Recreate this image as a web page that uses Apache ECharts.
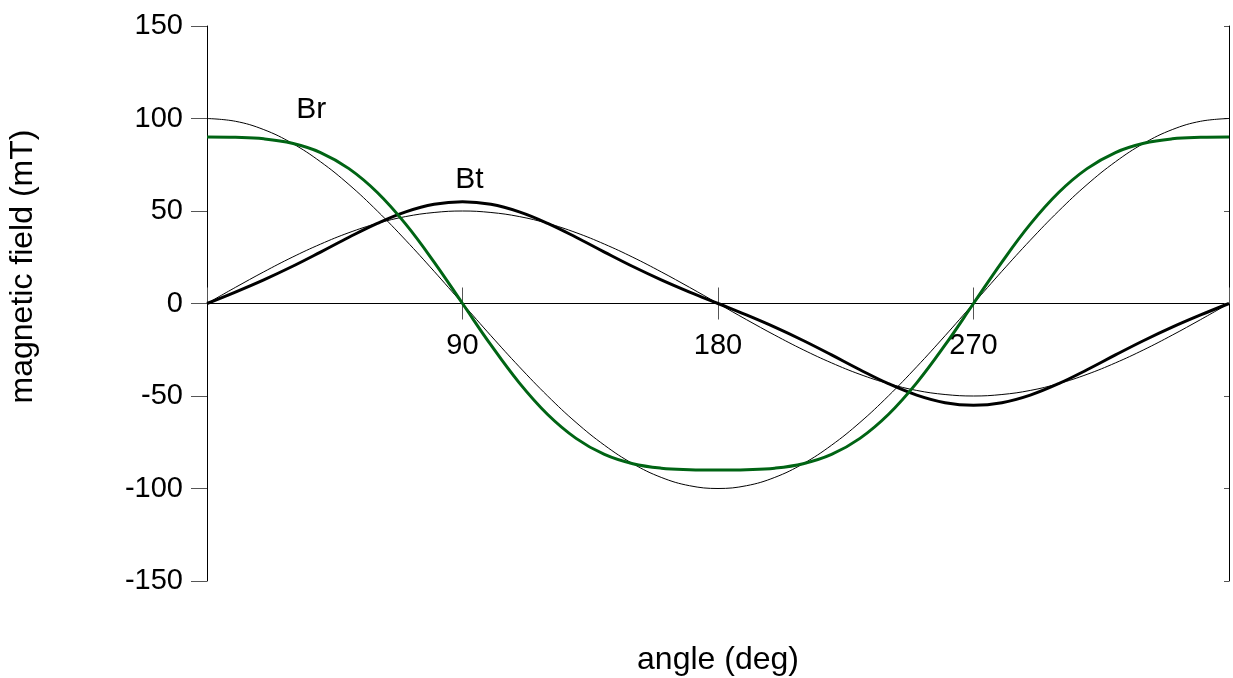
<!DOCTYPE html>
<html>
<head>
<meta charset="utf-8">
<script src="https://cdn.jsdelivr.net/npm/echarts@6/dist/echarts.min.js"></script>
<style>
    html, body { margin: 0; padding: 0; background: #fff; }
    #chart { width: 1233px; height: 678px; }
</style>
</head>
<body>
<div id="chart"></div>
<script>
// angle in degrees
var angles = [0, 10, 20, 30, 40, 50, 60, 70, 80, 90, 100, 110, 120, 130, 140, 150, 160, 170, 180,
    190, 200, 210, 220, 230, 240, 250, 260, 270, 280, 290, 300, 310, 320, 330, 340, 350, 360];

// thin lines
var brThin = [100, 98.5, 94, 86.6, 76.6, 64.3, 50, 34.2, 17.4, 0, -17.4, -34.2, -50, -64.3, -76.6, -86.6, -94, -98.5, -100,
    -98.5, -94, -86.6, -76.6, -64.3, -50, -34.2, -17.4, 0, 17.4, 34.2, 50, 64.3, 76.6, 86.6, 94, 98.5, 100];
var btThin = [0, 8.7, 17.1, 25, 32.1, 38.3, 43.3, 47, 49.2, 50, 49.2, 47, 43.3, 38.3, 32.1, 25, 17.1, 8.7, 0,
    -8.7, -17.1, -25, -32.1, -38.3, -43.3, -47, -49.2, -50, -49.2, -47, -43.3, -38.3, -32.1, -25, -17.1, -8.7, 0];

// thick lines
var brThick = [90, 89.8, 89, 86.6, 81.6, 72.9, 60, 42.9, 22.4, 0, -22.4, -42.9, -60, -72.9, -81.6, -86.6, -89, -89.8, -90,
    -89.8, -89, -86.6, -81.6, -72.9, -60, -42.9, -22.4, 0, 22.4, 42.9, 60, 72.9, 81.6, 86.6, 89, 89.8, 90];
var btThick = [0, 6.2, 12.8, 20, 27.8, 35.8, 43.3, 49.5, 53.6, 55, 53.6, 49.5, 43.3, 35.8, 27.8, 20, 12.8, 6.2, 0,
    -6.2, -12.8, -20, -27.8, -35.8, -43.3, -49.5, -53.6, -55, -53.6, -49.5, -43.3, -35.8, -27.8, -20, -12.8, -6.2, 0];

// curve labels [angle, value, text]
var curveLabels = [[36.7, 104.5, 'Br'], [92.4, 67, 'Bt']];

var FONT = "'Liberation Sans', Arial, sans-serif";

function pairs(ys) {
    return angles.map(function (a, i) { return [a, ys[i]]; });
}

function lineSeries(ys, color, width, extra) {
    var s = {
        type: 'line',
        data: pairs(ys),
        smooth: 0.4,
        showSymbol: false,
        symbol: 'none',
        silent: true,
        lineStyle: { color: color, width: width },
        z: width > 1 ? 3 : 2
    };
    if (extra) s.markPoint = extra;
    return s;
}

var chart = echarts.init(document.getElementById('chart'));
var option = {
    animation: false,
    backgroundColor: '#fff',
    textStyle: { fontFamily: FONT },
    grid: { left: 207, right: 4, top: 26, bottom: 97, containLabel: false, outerBoundsMode: 'none' },
    xAxis: [{
        type: 'value',
        position: 'bottom',
        min: 0, max: 360, interval: 90,
        name: 'angle (deg)',
        nameLocation: 'middle',
        nameGap: 63,
        nameTextStyle: { fontSize: 32, color: '#000', fontFamily: FONT },
        axisLine: { onZero: true, lineStyle: { color: '#000', width: 1 } },
        axisTick: { length: 16, lineStyle: { color: '#555' } },
        axisLabel: {
            fontSize: 29, color: '#000', margin: -250, fontFamily: FONT,
            showMinLabel: false, showMaxLabel: false,
            formatter: function (v) { return (v === 0 || v === 360) ? '' : v; }
        },
        splitLine: { show: false }
    }, {
        type: 'value',
        position: 'bottom',
        min: 0, max: 360, interval: 90,
        axisLine: { show: true, onZero: true, lineStyle: { color: '#000', width: 1 } },
        axisTick: { inside: true, length: 16, lineStyle: { color: '#555' } },
        axisLabel: { show: false },
        splitLine: { show: false }
    }],
    yAxis: [{
        type: 'value',
        position: 'left',
        min: -150, max: 150, interval: 50,
        name: 'magnetic field (mT)',
        nameLocation: 'middle',
        nameGap: 168,
        nameRotate: 90,
        nameTextStyle: { fontSize: 32, color: '#000', fontFamily: FONT, padding: [0, 0, 0, 74] },
        axisLine: { show: true, onZero: false, lineStyle: { color: '#000', width: 1 } },
        axisTick: { length: 16, lineStyle: { color: '#555' } },
        axisLabel: { fontSize: 29, color: '#000', margin: 24, fontFamily: FONT },
        splitLine: { show: false }
    }, {
        type: 'value',
        position: 'right',
        min: -150, max: 150, interval: 50,
        axisLine: { show: true, onZero: false, lineStyle: { color: '#000', width: 1 } },
        axisTick: { inside: true, length: 5, lineStyle: { color: '#555' } },
        axisLabel: { show: false },
        splitLine: { show: false }
    }],
    series: [
        lineSeries(brThin, '#000', 1, {
            symbol: 'circle', symbolSize: 0,
            label: {
                show: true, position: 'inside', color: '#000', fontSize: 30, fontFamily: FONT,
                formatter: function (p) { return p.name; }
            },
            data: curveLabels.map(function (c) { return { name: c[2], coord: [c[0], c[1]] }; })
        }),
        lineSeries(btThin, '#000', 1),
        lineSeries(btThick, '#000', 3),
        lineSeries(brThick, '#006414', 3)
    ]
};
chart.setOption(option);
</script>
</body>
</html>
